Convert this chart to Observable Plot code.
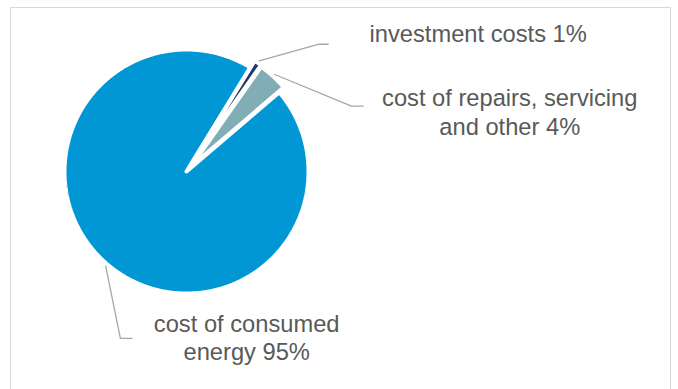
<!DOCTYPE html>
<html><head><meta charset="utf-8">
<script src="https://cdn.jsdelivr.net/npm/d3@7"></script>
<script src="https://cdn.jsdelivr.net/npm/@observablehq/plot@0.6"></script>
<style>
html,body{margin:0;padding:0;background:#fff;}
#wrap{position:relative;width:678px;height:389px;overflow:hidden;}
#frame{position:absolute;left:10px;top:7px;width:661px;height:420px;border:1px solid #d9d9d9;box-sizing:border-box;}
#chart{position:absolute;left:0;top:0;}
</style></head><body>
<div id="wrap"><div id="frame"></div><div id="chart"></div></div>
<script>
// ---- data ----
const categories = ["investment costs", "cost of repairs, servicing and other", "cost of consumed energy"];
const shares = [1, 4, 95];
const labelLines = ["investment costs 1%", "cost of repairs, servicing\nand other 4%", "cost of consumed\nenergy 95%"];
const sliceColors = ["#1F3A68", "#80ADB6", "#0097D4"];

// ---- layout ----
const W = 678, H = 389, CX = 186, CY = 171, R = 122;
const startAngle = 31.5 * Math.PI / 180;
const explode = [0.065, 0.055, 0];
const leaderOffsets = [[[59, -16.6], [69, -16.6]], [[76.7, 31.7], [88.3, 31.7]], [[14.7, 72.3], [26.3, 72.3]]];
const labelOffsets = [[219, -28], [235, 37], [141, 70.5]];

const arcs = d3.pie().sort(null).startAngle(startAngle).endAngle(startAngle + 2 * Math.PI)(shares);

const slicePts = [];
arcs.forEach((a, i) => {
  const m = (a.startAngle + a.endAngle) / 2;
  const ox = explode[i] * Math.sin(m), oy = explode[i] * Math.cos(m);
  const name = categories[i], color = sliceColors[i];
  slicePts.push({name, color, x: ox, y: oy});
  const n = Math.max(2, Math.ceil((a.endAngle - a.startAngle) / (0.5 * Math.PI / 180)));
  for (let k = 0; k <= n; k++) {
    const t = a.startAngle + (a.endAngle - a.startAngle) * k / n;
    slicePts.push({name, color, x: ox + Math.sin(t), y: oy + Math.cos(t)});
  }
  slicePts.push({name, color, x: ox, y: oy});
});
// draw the large slice first
const drawOrder = categories.slice().reverse();
slicePts.sort((p, q) => drawOrder.indexOf(p.name) - drawOrder.indexOf(q.name));

const leaderPts = [];
const labels = [];
arcs.forEach((a, i) => {
  const m = (a.startAngle + a.endAngle) / 2;
  const r0 = 1 + explode[i] + 0.02;
  const sx = r0 * Math.sin(m), sy = r0 * Math.cos(m);
  const name = categories[i];
  leaderPts.push({name, x: sx, y: sy});
  leaderOffsets[i].forEach(([dx, dy]) => leaderPts.push({name, x: sx + dx / R, y: sy - dy / R}));
  labels.push({text: labelLines[i], x: sx + labelOffsets[i][0] / R, y: sy - labelOffsets[i][1] / R});
});

const chart = Plot.plot({
  width: W, height: H, margin: 0,
  style: {fontFamily: "'Liberation Sans', Arial, sans-serif", background: "transparent"},
  x: {domain: [-CX / R, (W - CX) / R], axis: null},
  y: {domain: [-(H - CY) / R, CY / R], axis: null},
  color: {type: "identity"},
  marks: [
    Plot.line(slicePts, {x: "x", y: "y", z: "name", fill: "color", stroke: "white", strokeWidth: 4, strokeLinejoin: "miter"}),
    Plot.line(leaderPts, {x: "x", y: "y", z: "name", stroke: "#a6a6a6", strokeWidth: 1.3}),
    Plot.text(labels, {x: "x", y: "y", text: "text", fill: "#595959", fontSize: 23.7, lineHeight: 1.2, textAnchor: "middle", lineAnchor: "middle"})
  ]
});
document.getElementById("chart").appendChild(chart);
</script>
</body></html>
